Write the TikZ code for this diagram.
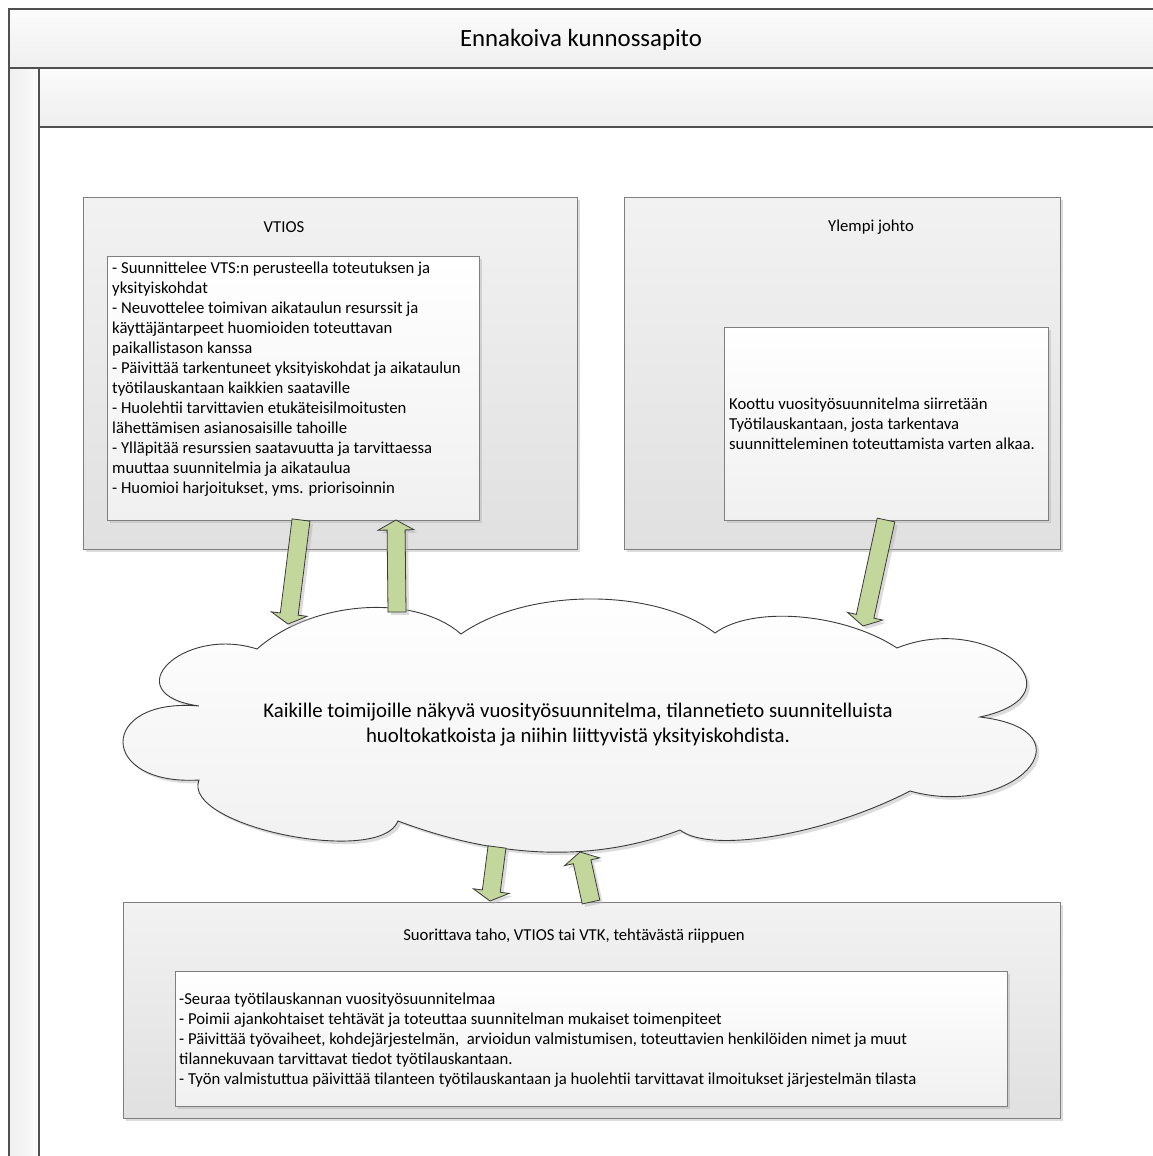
\documentclass[tikz,border=0pt]{standalone}
\usepackage{fontspec}
\setmainfont{Carlito}
\usetikzlibrary{calc,shadows}
\definecolor{laneline}{HTML}{505050}
\definecolor{boxline}{HTML}{7F7F7F}
\definecolor{boxtop}{HTML}{F2F2F2}
\definecolor{boxbot}{HTML}{E0E0E0}
\definecolor{whitebot}{HTML}{F0F0F0}
\definecolor{bandtop}{HTML}{FBFBFB}
\definecolor{bandbot}{HTML}{EFEFEF}
\definecolor{arrowfill}{HTML}{C3D69B}
\definecolor{arrowline}{HTML}{3A3A3A}
\newcommand\lobe[5]{.. controls ($#4*(#1)+1.3333*(#2)-#5*(#3)$) and ($#4*(#3)+1.3333*(#2)-#5*(#1)$) .. (#3)}
\newcommand\blockarrow[3]{%
  \coordinate (#1h) at ($(#3)!10pt!(#2)$);
  \draw[barrow] ($(#2)!9pt!90:(#3)$) -- ($(#1h)!9pt!90:(#3)$) -- ($(#1h)!18pt!90:(#3)$) -- (#3)
    -- ($(#1h)!18pt!-90:(#3)$) -- ($(#1h)!9pt!-90:(#3)$) -- ($(#2)!9pt!-90:(#3)$) -- cycle;}
\begin{document}
\begin{tikzpicture}[x=1pt,y=-1pt,
  lane/.style={draw=laneline, line width=1.4pt},
  shad/.style={drop shadow={shadow xshift=3pt, shadow yshift=-3pt, fill=black!30, opacity=0.45}},
  bigbox/.style={draw=boxline, line width=0.9pt, top color=boxtop, bottom color=boxbot, shad, inner sep=0pt, anchor=north west},
  whitebox/.style={draw=boxline, line width=0.9pt, top color=white, bottom color=whitebot, shad, inner sep=0pt, anchor=north west},
  hdr/.style={font=\fontsize{16.7}{20}\selectfont, inner sep=0pt},
  body/.style={font=\fontsize{16.7}{20}\selectfont, align=left, inner sep=0pt},
  barrow/.style={fill=arrowfill, draw=arrowline, line width=0.8pt, line join=miter, shad},
  cloudsty/.style={draw=arrowline, line width=0.9pt, top color=white, bottom color=whitebot, shad},
]
\useasboundingbox (0,0) rectangle (1153,1156);
\fill[white] (0,0) rectangle (1153,1156);
% pool
\fill[top color=bandtop, bottom color=bandbot] (9,9) rectangle (1153,68);
\fill[top color=bandtop, bottom color=bandbot] (39,68) rectangle (1153,127);
\fill[left color=bandbot, right color=bandtop] (9,68) rectangle (39,1156);
\draw[lane] (1153,9) -- (9,9) -- (9,1156);
\draw[lane] (9,68) -- (1153,68);
\draw[lane] (39,68) -- (39,1156);
\draw[lane] (39,127) -- (1153,127);
\node[font=\fontsize{24.8}{29}\selectfont, inner sep=0pt] (title) at (581,40) {Ennakoiva kunnossapito};

% VTIOS
\node[bigbox, minimum width=494pt, minimum height=352pt] (vtios) at (83,197) {};
\node[hdr] (vtiosT) at (284,227) {VTIOS};
\node[whitebox, minimum width=372pt, minimum height=264pt] (vtiosIn) at (107,256) {};
\node[body, anchor=north west] (vtiosTxt) at (112,262) {- Suunnittelee VTS:n perusteella toteutuksen ja\\
yksityiskohdat\\
- Neuvottelee toimivan aikataulun resurssit ja\\
käyttäjäntarpeet huomioiden toteuttavan\\
paikallistason kanssa\\
- Päivittää tarkentuneet yksityiskohdat ja aikataulun\\
työtilauskantaan kaikkien saataville\\
- Huolehtii tarvittavien etukäteisilmoitusten\\
lähettämisen asianosaisille tahoille\\
- Ylläpitää resurssien saatavuutta ja tarvittaessa\\
muuttaa suunnitelmia ja aikataulua\\
- Huomioi harjoitukset, yms. priorisoinnin};

% Ylempi johto
\node[bigbox, minimum width=436pt, minimum height=352pt] (ylempi) at (624,197) {};
\node[hdr] (ylempiT) at (871,227) {Ylempi johto};
\node[whitebox, minimum width=324pt, minimum height=193pt] (ylempiIn) at (724,327) {};
\node[body, anchor=west] (ylempiTxt) at (729,424) {Koottu vuosityösuunnitelma siirretään\\
Työtilauskantaan, josta tarkentava\\
suunnitteleminen toteuttamista varten alkaa.};

% Suorittava taho
\node[bigbox, minimum width=937pt, minimum height=216pt] (suor) at (123,902) {};
\node[hdr] (suorT) at (574,936) {Suorittava taho, VTIOS tai VTK, tehtävästä riippuen};
\node[whitebox, minimum width=832pt, minimum height=135pt] (suorIn) at (175,971) {};
\node[body, anchor=west] (suorTxt) at (179,1040) {-Seuraa työtilauskannan vuosityösuunnitelmaa\\
- Poimii ajankohtaiset tehtävät ja toteuttaa suunnitelman mukaiset toimenpiteet\\
- Päivittää työvaiheet, kohdejärjestelmän,~ arvioidun valmistumisen, toteuttavien henkilöiden nimet ja muut\\
tilannekuvaan tarvittavat tiedot työtilauskantaan.\\
- Työn valmistuttua päivittää tilanteen työtilauskantaan ja huolehtii tarvittavat ilmoitukset järjestelmän tilasta};

% cloud
\draw[cloudsty] (257,649)
  \lobe{257,649}{362,608}{461,634}{0.0833}{0.4167}
  \lobe{461,634}{590,599}{715,633}{0.0833}{0.4167}
  \lobe{715,633}{800,617}{897,648}{0.0833}{0.4167}
  \lobe{897,648}{1013,660}{980,717}{0.4333}{0.7667}
  \lobe{980,717}{1027,770}{910,791}{0.4333}{0.7667}
  \lobe{910,791}{775,836}{680,830}{0.0833}{0.4167}
  \lobe{680,830}{545,852}{398,821}{0}{0.3333}
  \lobe{398,821}{285,835}{199,780}{0.3333}{0.6667}
  \lobe{199,780}{123,742}{199,706}{0.4333}{0.7667}
  \lobe{199,706}{168,664}{257,649}{0.4333}{0.7667}
  -- cycle;
\node[font=\fontsize{20.8}{25}\selectfont, align=center, inner sep=0pt] (cloud) at (578,725) {Kaikille toimijoille näkyvä vuosityösuunnitelma, tilannetieto suunnitelluista\\
huoltokatkoista ja niihin liittyvistä yksityiskohdista.};

% arrows
\coordinate (a1s) at (301,520); \coordinate (a1t) at (288,624);
\coordinate (a2s) at (397,612); \coordinate (a2t) at (396,520);
\coordinate (a3s) at (886,520); \coordinate (a3t) at (863,626);
\coordinate (a4s) at (497,847); \coordinate (a4t) at (490,901);
\coordinate (a5s) at (591,902); \coordinate (a5t) at (580,852);
\blockarrow{a1}{a1s}{a1t}
\blockarrow{a2}{a2s}{a2t}
\blockarrow{a3}{a3s}{a3t}
\blockarrow{a4}{a4s}{a4t}
\blockarrow{a5}{a5s}{a5t}
\end{tikzpicture}
\end{document}
